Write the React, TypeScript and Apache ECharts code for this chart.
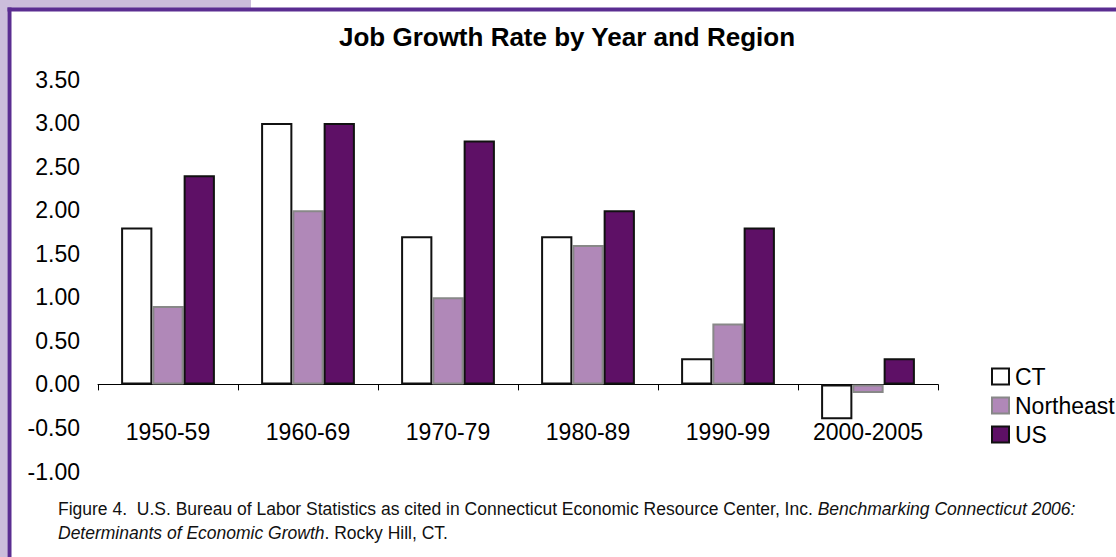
import React, { useEffect, useRef } from "react";
import * as echarts from "echarts";

const categories = ["1950-59", "1960-69", "1970-79", "1980-89", "1990-99", "2000-2005"];
const ctValues = [1.8, 3.0, 1.7, 1.7, 0.3, -0.4];
const northeastValues = [0.9, 2.0, 1.0, 1.6, 0.7, -0.1];
const usValues = [2.4, 3.0, 2.8, 2.0, 1.8, 0.3];
const yTicks = { min: -1, max: 3.5, interval: 0.5 };

const FONT = "'Liberation Sans', Arial, sans-serif";

export default function App() {
  const ref = useRef<HTMLDivElement>(null);
  useEffect(() => {
    if (!ref.current) return;
    const chart = echarts.init(ref.current, undefined, { renderer: "svg" });
    chart.setOption({
      animation: false,
      backgroundColor: "#ffffff",
      title: {
        text: "Job Growth Rate by Year and Region",
        left: 562,
        textAlign: "center",
        top: 19,
        textStyle: { fontFamily: FONT, fontWeight: "bold", fontSize: 26, color: "#000" },
      },
      legend: {
        orient: "vertical",
        left: 986,
        top: 360,
        icon: "rect",
        itemWidth: 17,
        itemHeight: 16,
        itemGap: 6,
        textStyle: { fontFamily: FONT, fontSize: 23, color: "#000", padding: [0, 0, 0, 1] },
        data: ["CT", "Northeast", "US"],
      },
      grid: { left: 98, right: 178, top: 79.5, bottom: 85.5, containLabel: false },
      xAxis: {
        type: "category",
        data: categories,
        axisLine: { onZero: true, lineStyle: { color: "#000", width: 1 } },
        axisTick: { show: true, length: 6, lineStyle: { color: "#000" } },
        axisLabel: { interval: 0, margin: -51, fontFamily: FONT, fontSize: 23, color: "#000" },
      },
      yAxis: {
        type: "value",
        min: yTicks.min,
        max: yTicks.max,
        interval: yTicks.interval,
        axisLine: { show: false },
        axisTick: { show: false },
        splitLine: { show: false },
        axisLabel: {
          margin: 18,
          fontFamily: FONT,
          fontSize: 23,
          color: "#000",
          formatter: (v: number) => v.toFixed(2),
        },
      },
      series: [
        {
          name: "CT",
          type: "bar",
          data: ctValues,
          barGap: "0%",
          barCategoryGap: "33%",
          itemStyle: { color: "#ffffff", borderColor: "#111111", borderWidth: 2 },
        },
        {
          name: "Northeast",
          type: "bar",
          data: northeastValues,
          itemStyle: { color: "#b088b8", borderColor: "#888888", borderWidth: 2 },
        },
        {
          name: "US",
          type: "bar",
          data: usValues,
          itemStyle: { color: "#5e1066", borderColor: "#111111", borderWidth: 2 },
        },
      ],
      graphic: [
        { type: "rect", shape: { x: 0, y: 0, width: 251, height: 8 }, style: { fill: "#cbbddb" }, silent: true },
        { type: "rect", shape: { x: 0, y: 0, width: 7.5, height: 557 }, style: { fill: "#cbbddb" }, silent: true },
        { type: "rect", shape: { x: 7.5, y: 7.5, width: 1110, height: 4 }, style: { fill: "#5a2d91" }, silent: true },
        { type: "rect", shape: { x: 7.5, y: 7.5, width: 4, height: 550 }, style: { fill: "#5a2d91" }, silent: true },
        {
          type: "text",
          left: 58,
          top: 500,
          silent: true,
          style: {
            text:
              "{a|Figure 4.  U.S. Bureau of Labor Statistics as cited in Connecticut Economic Resource Center, Inc. }{b|Benchmarking Connecticut 2006:}\n{b|Determinants of Economic Growth}{a|. Rocky Hill, CT.}",
            rich: {
              a: { fontFamily: FONT, fontSize: 17.5, fill: "#111", lineHeight: 24 },
              b: { fontFamily: FONT, fontSize: 17.5, fill: "#111", fontStyle: "italic", lineHeight: 24 },
            },
          },
        },
      ],
    });
    return () => chart.dispose();
  }, []);
  return <div ref={ref} style={{ position: "fixed", left: 0, top: 0, width: 1116, height: 557 }} />;
}
